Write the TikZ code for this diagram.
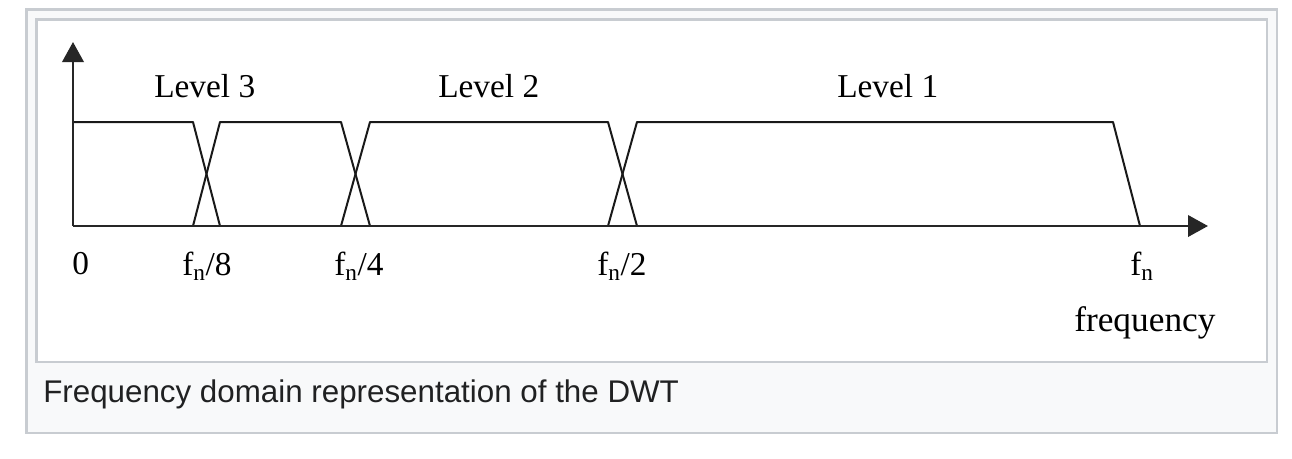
\documentclass[tikz,border=0pt]{standalone}
\usepackage{fontspec}
\setmainfont{Liberation Serif}
\newfontfamily\captionfont{Liberation Sans}
\usepackage{tikz}
\usetikzlibrary{arrows.meta}
\definecolor{framegray}{HTML}{C8CCD1}
\definecolor{capbg}{HTML}{F8F9FA}
\definecolor{captext}{HTML}{202122}

\begin{document}
\begin{tikzpicture}[x=0.75pt,y=0.75pt,yscale=-1,xscale=1,
    axis/.style={line width=2pt, color=black!85, -{Triangle[length=15pt,width=16pt]}},
    band/.style={line width=1.5pt, color=black!90, line join=round},
    lbl/.style={anchor=north west, inner sep=0.75pt, font=\fontsize{25pt}{30pt}\selectfont}]
    \useasboundingbox (0,0) rectangle (1292,458);
    
    %Shape: Rectangle [outer frame]
    \draw [color=framegray, fill=capbg, line width=2pt] (26.5,9.5) rectangle (1277,433);
    %Shape: Rectangle [inner frame]
    \draw [color=framegray, fill=white, line width=2pt] (36.5,19.5) rectangle (1267,362);
    
    %Shape: Polygon [bands]
    \draw [band] (73,122) -- (193,122) -- (220,226);
    \draw [band] (193,226) -- (220,122) -- (341,122) -- (370,226);
    \draw [band] (341,226) -- (370,122) -- (608,122) -- (637,226);
    \draw [band] (608,226) -- (637,122) -- (1113,122) -- (1140,226);
    
    %Straight Lines [axes]
    \coordinate (orig) at (73,226);
    \coordinate (fend) at (1208,226);
    \coordinate (aend) at (73,42);
    \draw [axis] (orig) -- (fend);
    \draw [axis] (orig) -- (aend);
    
    % Text Node
    \draw (153,73) node (lvl3) [lbl] {Level 3};
    % Text Node
    \draw (437,73) node (lvl2) [lbl] {Level 2};
    % Text Node
    \draw (836,73) node (lvl1) [lbl] {Level 1};
    % Text Node
    \draw (71,251) node (t0) [lbl] {0};
    % Text Node
    \draw (181,251) node (t8) [lbl] {f\textsubscript{n}/8};
    % Text Node
    \draw (333,251) node (t4) [lbl] {f\textsubscript{n}/4};
    % Text Node
    \draw (596,251) node (t2) [lbl] {f\textsubscript{n}/2};
    % Text Node
    \draw (1129,251) node (tn) [lbl] {f\textsubscript{n}};
    % Text Node
    \draw (1073,305) node (freq) [lbl, font=\fontsize{26.5pt}{31pt}\selectfont] {frequency};
    % Text Node
    \draw (42,379) node (cap) [anchor=north west][inner sep=0.75pt] [font=\captionfont\fontsize{23.5pt}{28pt}\selectfont, text=captext] {Frequency domain representation of the DWT};
\end{tikzpicture}
\end{document}
